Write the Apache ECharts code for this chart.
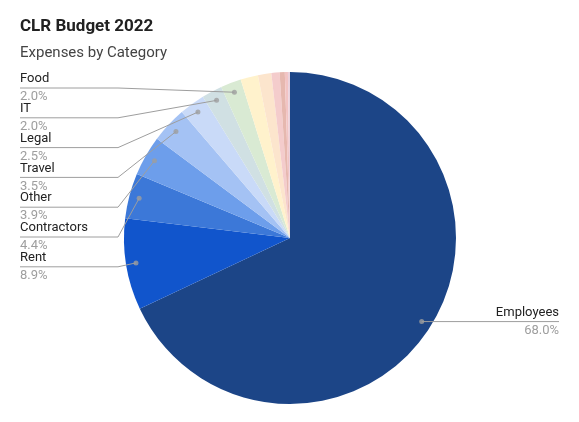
<!DOCTYPE html>
<html>
<head>
<meta charset="utf-8">
<script src="https://cdn.jsdelivr.net/npm/echarts@6/dist/echarts.min.js"></script>
<style>
html,body{margin:0;padding:0;background:#fff;}
#c{width:579px;height:422px;}
</style>
</head>
<body>
<div id="c"></div>
<script>
var categories = ['Employees','Rent','Contractors','Other','Travel','Legal','IT','Food','Misc A','Misc B','Misc C','Misc D','Misc E','Misc F'];
var values = [68.0, 8.9, 4.4, 3.9, 3.5, 2.5, 2.0, 2.0, 1.7, 1.3, 0.8, 0.5, 0.3, 0.2];
var labelled = [true,true,true,true,true,true,true,true,false,false,false,false,false,false];
var colors = ['#1c4587','#1155cc','#3c78d8','#6d9eeb','#a4c2f4','#c9daf8','#d0e0e3','#d9ead3','#fff2cc','#fce5cd','#f4cccc','#e6b8af','#f2c4c4','#ead1dc'];

var CX = 290, CY = 238, R = 166, RDOT = 156;
var FONT = 'Roboto, "Noto Sans", sans-serif';

var chart = echarts.init(document.getElementById('c'), null, {renderer:'canvas'});

var pieData = categories.map(function(c,i){
  return {name:c, value:values[i], itemStyle:{color:colors[i]}};
});
var labelData = categories.map(function(c,i){
  return {name:c, value:values[i], label:{show:labelled[i]}, labelLine:{show:labelled[i]}};
});
// dot positions (polar): cumulative mid-angles of labelled slices
var total = values.reduce(function(a,b){return a+b;},0);
var dots = [];
var cum = 0;
values.forEach(function(v,i){
  if (labelled[i]) dots.push([RDOT, (cum + v/2)/total*100]);
  cum += v;
});

// left label rows (order from top): Food .. Rent
var leftTop = 88, leftStep = 29.8, leftX = 20, elbowX = 118;

chart.setOption({
  backgroundColor:'#ffffff',
  animation:false,
  title:{
    text:'CLR Budget 2022',
    subtext:'Expenses by Category',
    left:20, top:18, padding:0, itemGap:11,
    textStyle:{fontFamily:FONT, fontSize:17, fontWeight:'bold', color:'#212121'},
    subtextStyle:{fontFamily:FONT, fontSize:15, color:'#444444'}
  },
  polar:{center:[CX,CY], radius:R},
  angleAxis:{type:'value', min:0, max:100, startAngle:90, clockwise:true, show:false},
  radiusAxis:{type:'value', min:0, max:R, show:false},
  series:[
    {
      type:'pie', center:[CX,CY], radius:[0,R], startAngle:90, clockwise:true,
      avoidLabelOverlap:false, silent:true,
      label:{show:false}, labelLine:{show:false},
      itemStyle:{borderWidth:0},
      data:pieData, z:1
    },
    {
      type:'pie', center:[CX,CY], radius:[0,RDOT], startAngle:90, clockwise:true,
      avoidLabelOverlap:false, silent:true,
      itemStyle:{color:'rgba(0,0,0,0)', borderWidth:0},
      label:{
        show:true, position:'outside',
        formatter:function(p){ return '{n|'+p.name+'}\n{p|'+p.value.toFixed(1)+'%}'; },
        rich:{
          n:{fontFamily:FONT, fontSize:13, color:'#222222', lineHeight:18},
          p:{fontFamily:FONT, fontSize:13, color:'#9e9e9e', lineHeight:18}
        }
      },
      labelLine:{show:true, length:10, length2:10, lineStyle:{color:'#9e9e9e', width:1}},
      labelLayout:function(params){
        var i = params.dataIndex;
        var start = params.labelLinePoints ? params.labelLinePoints[0] : [0,0];
        if (i === 0) {
          var y = start[1];
          return {x:559, y:y, align:'right', verticalAlign:'middle',
                  labelLinePoints:[start,[490,y],[559,y]]};
        }
        var row = 7 - i; // Food=0 ... Rent=6
        var ly = leftTop + row*leftStep;
        return {x:leftX, y:ly, align:'left', verticalAlign:'middle',
                labelLinePoints:[start,[elbowX,ly],[leftX,ly]]};
      },
      data:labelData, z:3
    },
    {
      type:'scatter', coordinateSystem:'polar', silent:true,
      symbol:'circle', symbolSize:5,
      itemStyle:{color:'#9e9e9e'},
      data:dots, z:4
    }
  ]
});
</script>
</body>
</html>
